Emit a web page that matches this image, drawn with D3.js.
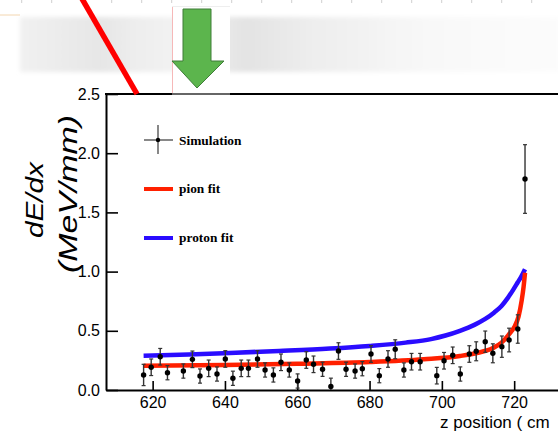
<!DOCTYPE html>
<html>
<head>
<meta charset="utf-8">
<script src="https://cdn.jsdelivr.net/npm/d3@7"></script>
<style>
  body { margin: 0; background: #fff; }
  svg { display: block; }
  .tick text { font-family: "Liberation Sans", Arial, sans-serif; font-size: 16px; fill: #000; }
  .legend text { font-family: "Liberation Serif", "Times New Roman", serif; font-weight: bold; font-size: 13.4px; }
</style>
</head>
<body>
<div id="chart"></div>
<script>
// simulated points
const zPos = [617.5, 619.6, 622.1, 624.1, 628.5, 631.0, 633.1, 635.5, 637.8, 640.1, 642.2, 644.5, 646.5, 649.0, 651.1, 653.4, 655.5, 657.8, 660.1, 662.5, 664.5, 667.0, 669.3, 671.4, 673.5, 676.0, 678.0, 680.4, 682.7, 685.1, 687.1, 689.5, 691.6, 694.0, 698.6, 700.6, 703.0, 705.1, 707.6, 709.5, 712.0, 714.1, 716.6, 718.6, 721.0, 723.0];
const dEdx = [0.127, 0.192, 0.281, 0.146, 0.160, 0.259, 0.118, 0.183, 0.135, 0.262, 0.099, 0.183, 0.183, 0.262, 0.169, 0.127, 0.234, 0.169, 0.076, 0.253, 0.217, 0.175, 0.030, 0.329, 0.175, 0.160, 0.180, 0.304, 0.121, 0.262, 0.344, 0.169, 0.239, 0.239, 0.121, 0.247, 0.293, 0.135, 0.304, 0.327, 0.408, 0.310, 0.366, 0.422, 0.515, 1.782];
const dEdxErr = [0.09, 0.07, 0.07, 0.06, 0.06, 0.07, 0.06, 0.07, 0.06, 0.07, 0.06, 0.07, 0.07, 0.07, 0.06, 0.06, 0.07, 0.06, 0.06, 0.07, 0.07, 0.06, 0.07, 0.07, 0.06, 0.06, 0.06, 0.07, 0.06, 0.07, 0.08, 0.06, 0.07, 0.07, 0.07, 0.07, 0.07, 0.06, 0.07, 0.08, 0.09, 0.08, 0.09, 0.10, 0.12, 0.29];

// fit curves
const pionZ = [617.5, 640, 660, 680, 695, 705, 710, 714, 716.5, 718.4, 720, 721.2, 722.1, 722.6, 723];
const pionFit = [0.205, 0.212, 0.222, 0.236, 0.259, 0.287, 0.315, 0.352, 0.40, 0.464, 0.53, 0.62, 0.76, 0.87, 0.99];
const protonZ = [617.5, 630, 643, 655, 669, 680, 690, 697, 701, 705, 709, 712, 714.5, 716.5, 718.3, 719.8, 721, 722, 723];
const protonFit = [0.29, 0.30, 0.315, 0.33, 0.35, 0.372, 0.40, 0.43, 0.46, 0.50, 0.55, 0.60, 0.655, 0.71, 0.78, 0.85, 0.91, 0.96, 1.02];

const xMajor = [620, 640, 660, 680, 700, 720];
const yMajor = [0, 0.5, 1.0, 1.5, 2.0, 2.5];

const legendItems = ["Simulation", "pion fit", "proton fit"];

const W = 558, H = 433;
const svg = d3.select("#chart").append("svg").attr("width", W).attr("height", H);

const x = d3.scaleLinear().domain([607.1, 735]).range([106, 568.4]);
const y = d3.scaleLinear().domain([0, 2.5]).range([390, 94]);

// --- slide leftovers above the plot
let defs = svg.append("defs");
let grad = defs.append("linearGradient").attr("id", "band");
[[0, "#f1f1f1"], [0.15, "#e6e6e6"], [0.22, "#eeeeee"], [0.3, "#f3f3f3"], [0.42, "#e3e3e3"], [0.55, "#eeeeee"], [0.75, "#f8f8f8"], [1, "#fcfcfc"]]
  .forEach(s => grad.append("stop").attr("offset", s[0]).attr("stop-color", s[1]));
defs.append("filter").attr("id", "blur").append("feGaussianBlur").attr("stdDeviation", 2);

svg.append("rect").attr("x", 20).attr("y", 17).attr("width", 540).attr("height", 55)
  .attr("fill", "url(#band)").attr("filter", "url(#blur)");
svg.append("line").attr("x1", 0).attr("x2", 20).attr("y1", 15).attr("y2", 15)
  .attr("stroke", "#f3d6b0").attr("stroke-width", 1);
svg.append("g").selectAll("line").data(d3.range(21.7, 558, 30)).join("line")
  .attr("x1", d => d).attr("x2", d => d).attr("y1", 0).attr("y2", 3)
  .attr("stroke", "#cfcfcf").attr("stroke-width", 1);

// --- plot frame and axes
const xAxisMinor = d3.axisBottom(x).tickValues(d3.range(610, 735, 5).filter(v => v % 20 !== 0))
  .tickSize(-5).tickSizeOuter(0).tickFormat("");
const xAxis = d3.axisBottom(x).tickValues(xMajor).tickSize(-9).tickSizeOuter(0).tickPadding(7);
const yAxisMinor = d3.axisLeft(y).tickValues(d3.range(0, 25).map(v => v / 10).filter(v => Math.round(v * 10) % 5 !== 0))
  .tickSize(-6).tickSizeOuter(0).tickFormat("");
const yAxis = d3.axisLeft(y).tickValues(yMajor).tickSize(-12).tickSizeOuter(0).tickPadding(6).tickFormat(d3.format(".1f"));

let gx = svg.append("g").attr("transform", "translate(0,390)");
gx.call(xAxisMinor);
gx.call(xAxis);
let gy = svg.append("g").attr("transform", "translate(106,0)");
gy.call(yAxisMinor);
gy.call(yAxis);
svg.selectAll(".domain").attr("stroke", "#000").attr("stroke-width", 2);
svg.selectAll(".tick line").attr("stroke", "#000").attr("stroke-width", 1.6);

svg.append("line").attr("x1", 105).attr("x2", W).attr("y1", y(2.5)).attr("y2", y(2.5))
  .attr("stroke", "#000").attr("stroke-width", 2);

// axis titles
svg.append("text").attr("transform", "translate(43,200) rotate(-90)")
  .attr("text-anchor", "middle").attr("font-family", "Liberation Sans, Arial, sans-serif")
  .attr("font-style", "italic").attr("font-size", 23)
  .attr("textLength", 76).attr("lengthAdjust", "spacingAndGlyphs").text("dE/dx");
svg.append("text").attr("transform", "translate(77,194) rotate(-90)")
  .attr("text-anchor", "middle").attr("font-family", "Liberation Sans, Arial, sans-serif")
  .attr("font-style", "italic").attr("font-size", 26)
  .attr("textLength", 158).attr("lengthAdjust", "spacingAndGlyphs").text("(MeV/mm)");
// the title runs off the right edge in the picture, only this part shows
svg.append("text").attr("x", 440).attr("y", 428)
  .attr("font-family", "Liberation Sans, Arial, sans-serif").attr("font-size", 17)
  .text("z position ( cm");

// --- fit curves
const line = d3.line().x(d => x(d[0])).y(d => y(d[1])).curve(d3.curveMonotoneX);
svg.append("path").datum(protonZ.map((z, i) => [z, protonFit[i]]))
  .attr("d", line).attr("fill", "none").attr("stroke", "#2a0cff").attr("stroke-width", 4.5);
svg.append("path").datum(pionZ.map((z, i) => [z, pionFit[i]]))
  .attr("d", line).attr("fill", "none").attr("stroke", "#ff2000").attr("stroke-width", 4.5);

// --- simulation points with error bars
const pts = zPos.map((z, i) => ({ z: z, v: dEdx[i], e: dEdxErr[i] }));
let pg = svg.append("g").selectAll("g").data(pts).join("g");
pg.append("line")
  .attr("x1", d => x(d.z)).attr("x2", d => x(d.z))
  .attr("y1", d => y(d.v + d.e)).attr("y2", d => Math.min(y(d.v - d.e), 390))
  .attr("stroke", "#333").attr("stroke-width", 1.4);
[1, -1].forEach(s => {
  pg.filter(d => y(d.v + s * d.e) <= 390).append("line")
    .attr("x1", d => x(d.z) - 2).attr("x2", d => x(d.z) + 2)
    .attr("y1", d => y(d.v + s * d.e)).attr("y2", d => y(d.v + s * d.e))
    .attr("stroke", "#333").attr("stroke-width", 1.2);
});
pg.append("circle").attr("cx", d => x(d.z)).attr("cy", d => y(d.v)).attr("r", 2.7).attr("fill", "#000");

// --- legend
let lg = svg.append("g").attr("class", "legend");
lg.append("line").attr("x1", 144).attr("x2", 173).attr("y1", 140).attr("y2", 140).attr("stroke", "#555").attr("stroke-width", 1.4);
lg.append("line").attr("x1", 158).attr("x2", 158).attr("y1", 125).attr("y2", 154).attr("stroke", "#555").attr("stroke-width", 1.4);
lg.append("circle").attr("cx", 158).attr("cy", 140).attr("r", 2.2).attr("fill", "#000");
lg.append("line").attr("x1", 144).attr("x2", 173).attr("y1", 189).attr("y2", 189).attr("stroke", "#ff2000").attr("stroke-width", 4);
lg.append("line").attr("x1", 144).attr("x2", 173).attr("y1", 238).attr("y2", 238).attr("stroke", "#2a0cff").attr("stroke-width", 4);
lg.selectAll("text").data(legendItems).join("text")
  .attr("x", 179).attr("y", (d, i) => [145, 193, 242][i]).text(d => d);

// --- red pointer line and green arrow pasted on top
svg.append("line").attr("x1", 81).attr("y1", -3).attr("x2", 137).attr("y2", 94)
  .attr("stroke", "#ff0000").attr("stroke-width", 5.5);
svg.append("rect").attr("x", 172).attr("y", 6).attr("width", 58).attr("height", 88).attr("fill", "#fff");
svg.append("line").attr("x1", 172.5).attr("x2", 172.5).attr("y1", 6).attr("y2", 95).attr("stroke", "#f6b8b8").attr("stroke-width", 1);
svg.append("line").attr("x1", 172).attr("x2", 230).attr("y1", 6.5).attr("y2", 6.5).attr("stroke", "#eeeeee").attr("stroke-width", 1);
svg.append("line").attr("x1", 172).attr("x2", 230).attr("y1", 94).attr("y2", 94).attr("stroke", "#666").attr("stroke-width", 2);
svg.append("path")
  .attr("d", "M183,9 L211,9 L211,61 L224,61 L197,88 L172,61 L183,61 Z")
  .attr("fill", "#5cb54d").attr("stroke", "#3f7d38").attr("stroke-width", 1);
</script>
</body>
</html>
